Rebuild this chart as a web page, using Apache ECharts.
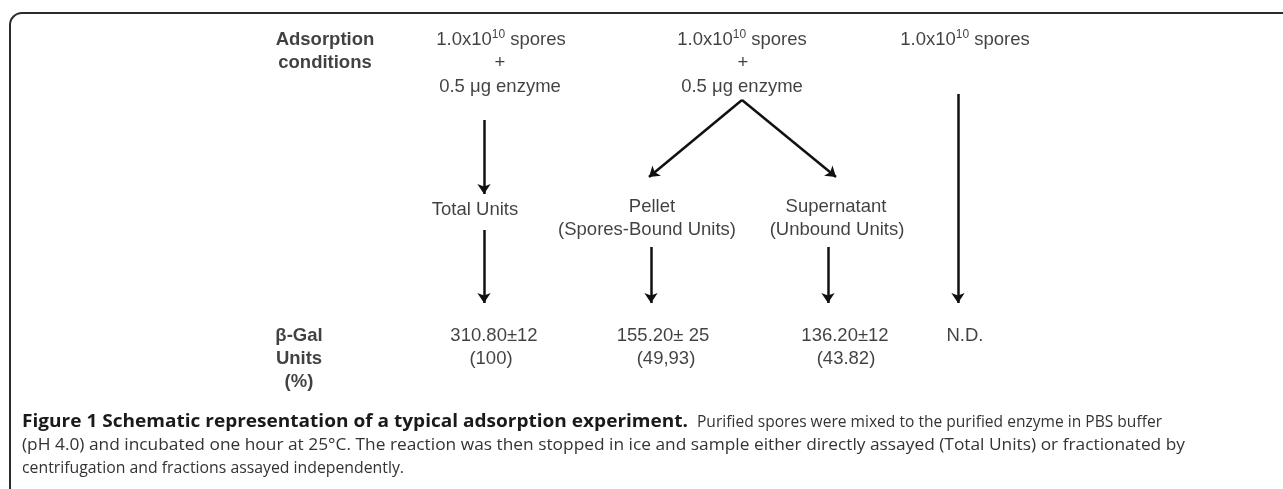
<!DOCTYPE html>
<html>
<head>
<meta charset="utf-8">
<script src="https://cdn.jsdelivr.net/npm/echarts@6/dist/echarts.min.js"></script>
<style>
  html, body { margin: 0; padding: 0; background: #fff; }
  #main { width: 1283px; height: 489px; }
</style>
</head>
<body>
<div id="main"></div>
<script>
// row headers on the left (bold)
const headTexts = ['Adsorption', 'conditions', 'β-Gal', 'Units', '(%)'];
const headCoords = [[325, 40], [325, 63], [299, 336], [299, 359], [299, 382]];

// step texts of the scheme
const stepTexts = [
  '1.0x10{sup|10} spores', '+', '0.5 μg enzyme',
  '1.0x10{sup|10} spores', '+', '0.5 μg enzyme',
  '1.0x10{sup|10} spores',
  'Total Units',
  'Pellet', '(Spores-Bound Units)',
  'Supernatant', '(Unbound Units)'
];
const stepCoords = [
  [501, 40], [500, 63], [500, 87],
  [742, 40], [743, 63], [742, 87],
  [965, 40],
  [475, 210],
  [652, 207], [647, 230],
  [836, 207], [837, 230]
];

// β-Gal units measured (% of total)
const unitTexts = ['310.80±12', '(100)', '155.20± 25', '(49,93)', '136.20±12', '(43.82)', 'N.D.'];
const unitCoords = [[494, 336], [491, 359], [663, 336], [666, 359], [845, 336], [846, 359], [965, 336]];

// arrows: [start, end]
const arrows = [
  [[484, 120], [484, 194]],
  [[484, 230], [484, 303]],
  [[742, 100], [649, 177]],
  [[742, 100], [836, 177]],
  [[651, 247], [651, 303]],
  [[828, 247], [828, 303]],
  [[958, 94], [958, 303]]
];

// caption pieces
const captionTexts = [
  'Figure 1 Schematic representation of a typical adsorption experiment.',
  'Purified spores were mixed to the purified enzyme in PBS buffer',
  '(pH 4.0) and incubated one hour at 25°C. The reaction was then stopped in ice and sample either directly assayed (Total Units) or fractionated by',
  'centrifugation and fractions assayed independently.'
];
const captionBold = [true, false, false, false];
// left / right edge and middle line of each piece
const captionSpans = [[22, 688, 422], [697, 1162, 422], [22, 1185, 445], [22, 404, 468]];

const chart = echarts.init(document.getElementById('main'), null, { renderer: 'canvas' });

const textFont = 'Liberation Sans, Arial, sans-serif';
const measureCtx = document.createElement('canvas').getContext('2d');
function textWidth(text, font) {
  measureCtx.font = font;
  return measureCtx.measureText(text).width;
}

function textPoints(texts, coords) {
  return texts.map((t, i) => ({ name: t, value: coords[i] }));
}

function textSeries(data, bold) {
  return {
    type: 'scatter',
    silent: true,
    symbolSize: 0,
    data: data,
    label: {
      show: true,
      position: 'inside',
      formatter: p => p.name,
      color: '#111',
      fontFamily: textFont,
      fontSize: 18.5,
      fontWeight: bold ? 'bold' : 'normal',
      lineHeight: 22,
      rich: {
        sup: { fontSize: 12, verticalAlign: 'top', lineHeight: 13, color: '#111', fontFamily: textFont }
      }
    },
    emphasis: { disabled: true },
    z: 3
  };
}

const captionGraphics = captionTexts.map((t, i) => {
  const font = captionBold[i] ? 'bold 17.5px "Open Sans", sans-serif' : '16.8px "Open Sans", sans-serif';
  const [x0, x1, y] = captionSpans[i];
  const w = textWidth(t, font);
  return {
    type: 'text',
    x: x0,
    y: y,
    scaleX: (x1 - x0) / w,
    silent: true,
    style: {
      text: t,
      fill: captionBold[i] ? '#1a1a1a' : '#333',
      font: font,
      verticalAlign: 'middle'
    }
  };
});

const option = {
  backgroundColor: '#fff',
  animation: false,
  grid: { left: 0, right: 0, top: 0, bottom: 0 },
  xAxis: { type: 'value', min: 0, max: 1283, show: false },
  yAxis: { type: 'value', min: 0, max: 489, inverse: true, show: false },
  graphic: [
    {
      type: 'rect',
      shape: { x: 10, y: 13, width: 1400, height: 600, r: 12 },
      style: { fill: 'none', stroke: '#2b2b2b', lineWidth: 2 },
      silent: true
    }
  ].concat(captionGraphics),
  series: [
    textSeries(textPoints(headTexts, headCoords), true),
    textSeries(textPoints(stepTexts, stepCoords), false),
    textSeries(textPoints(unitTexts, unitCoords), false),
    {
      type: 'lines',
      coordinateSystem: 'cartesian2d',
      silent: true,
      symbol: ['none', 'arrow'],
      symbolSize: 10,
      lineStyle: { color: '#111', width: 2.5, opacity: 1 },
      data: arrows.map(a => ({ coords: a })),
      z: 2
    }
  ]
};

chart.setOption(option);
</script>
</body>
</html>
